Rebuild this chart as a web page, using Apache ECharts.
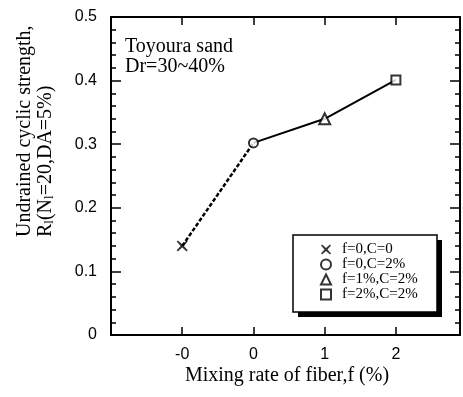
<!DOCTYPE html>
<html>
<head>
<meta charset="utf-8">
<script src="https://cdn.jsdelivr.net/npm/echarts@6/dist/echarts.min.js"></script>
<style>
  html, body { margin: 0; padding: 0; background: #fff; }
  #chart { width: 463px; height: 397px; }
</style>
</head>
<body>
<div id="chart"></div>
<script>
// Mixing rate of fiber: tick labels at positions 0..3 on the x axis
const fiberLabels = ['-0', '0', '1', '2'];
// Undrained cyclic strength R_l(N_l=20, DA=5%) for each test case
const strengthValues = [0.14, 0.302, 0.34, 0.401];
// Legend names for the four test cases
const caseNames = ['f=0,C=0', 'f=0,C=2%', 'f=1%,C=2%', 'f=2%,C=2%'];
// Marker for each case
const caseSymbols = [
  'path://M1,0 L5,3.5 L9,0 L10,1 L6.5,5 L10,9 L9,10 L5,6.5 L1,10 L0,9 L3.5,5 L0,1 Z',
  'circle', 'triangle', 'rect'
];
const caseSymbolSizes = [11, 9, 11, 9];
// y axis ticks
const yMin = 0, yMax = 0.5, yStep = 0.1;

const serif = "'Liberation Serif', 'DejaVu Serif', serif";
const sans = "'Liberation Sans', Arial, sans-serif";
const noGrid = { show: true, lineStyle: { color: 'rgba(0,0,0,0)', width: 0 } };

const pts = fiberLabels.map((_, i) => [i, strengthValues[i]]);

const markerSeries = caseNames.map((name, i) => ({
  name: name,
  type: 'scatter',
  data: [pts[i]],
  symbol: caseSymbols[i],
  symbolSize: caseSymbolSizes[i],
  symbolKeepAspect: true,
  z: 5,
  itemStyle: i === 0
    ? { color: '#000', borderWidth: 0 }
    : { color: '#fff', borderColor: '#000', borderWidth: 2 },
  emphasis: { disabled: true }
}));

const chart = echarts.init(document.getElementById('chart'), null, { renderer: 'canvas' });

chart.setOption({
  animation: false,
  grid: { left: 111, top: 17, right: 3, bottom: 62 },
  xAxis: [{
    type: 'value', min: -1, max: 3.9, interval: 1,
    axisLine: { onZero: false, lineStyle: { color: '#000', width: 2 } },
    axisTick: { show: true, inside: true, length: 8, lineStyle: { color: '#000', width: 1.5 } },
    splitLine: noGrid,
    axisLabel: {
      margin: 12, color: '#000', fontFamily: sans, fontSize: 16,
      formatter: v => (Number.isInteger(v) && v >= 0 && v < fiberLabels.length) ? fiberLabels[v] : ''
    }
  }, {
    type: 'value', position: 'top', min: -1, max: 3.9, interval: 1,
    axisLine: { show: true, onZero: false, lineStyle: { color: '#000', width: 2 } },
    axisTick: { show: true, inside: true, length: 8, lineStyle: { color: '#000', width: 1.5 } },
    splitLine: noGrid,
    axisLabel: { show: false }
  }],
  yAxis: [{
    type: 'value', min: yMin, max: yMax, interval: yStep,
    axisLine: { show: true, onZero: false, lineStyle: { color: '#000', width: 2 } },
    axisTick: { show: true, inside: true, length: 10, lineStyle: { color: '#000', width: 1.5 } },
    minorTick: { show: true, splitNumber: 5, length: 5, lineStyle: { color: '#000', width: 1.5 } },
    splitLine: { show: false },
    axisLabel: { margin: 14, color: '#000', fontFamily: sans, fontSize: 16 }
  }, {
    type: 'value', position: 'right', min: yMin, max: yMax, interval: yStep,
    axisLine: { show: true, onZero: false, lineStyle: { color: '#000', width: 2 } },
    axisTick: { show: true, inside: true, length: 10, lineStyle: { color: '#000', width: 1.5 } },
    minorTick: { show: true, splitNumber: 5, length: 5, lineStyle: { color: '#000', width: 1.5 } },
    splitLine: { show: false },
    axisLabel: { show: false }
  }],
  legend: {
    data: caseNames,
    orient: 'vertical',
    left: 293, top: 235,
    padding: [7, 20, 14, 27],
    itemWidth: 10, itemHeight: 10, itemGap: 0,
    z: 10,
    selectedMode: false,
    textStyle: {
      fontFamily: serif, fontSize: 15, color: '#000',
      lineHeight: 14, padding: [0, 0, 0, 6]
    }
  },
  series: [{
    name: 'untreated', type: 'line', data: [pts[0], pts[1]],
    symbol: 'none', z: 3, silent: true,
    lineStyle: { color: '#000', width: 2.5, type: [4, 2] }
  }, {
    name: 'fiber', type: 'line', data: [pts[1], pts[2], pts[3]],
    symbol: 'none', z: 3, silent: true,
    lineStyle: { color: '#000', width: 2 }
  }].concat(markerSeries),
  graphic: [{
    // legend frame with its drop shadow
    type: 'rect', z: 8, silent: true,
    shape: { x: 298, y: 240, width: 144, height: 77 },
    style: { fill: '#000' }
  }, {
    type: 'rect', z: 9, silent: true,
    shape: { x: 293, y: 235, width: 144, height: 77 },
    style: { fill: '#fff', stroke: '#000', lineWidth: 1.5 }
  }, {
    type: 'text', left: 125, top: 37, silent: true,
    style: {
      text: 'Toyoura sand\nDr=30~40%', font: '20px ' + serif,
      lineHeight: 20, fill: '#000'
    }
  }, {
    type: 'text', x: 287, y: 376, silent: true,
    style: {
      text: 'Mixing rate of fiber,f (%)', font: '20px ' + serif,
      fill: '#000', align: 'center', verticalAlign: 'middle'
    }
  }, {
    type: 'text', x: 25, y: 237, rotation: Math.PI / 2, silent: true,
    style: {
      text: 'Undrained cyclic strength,', font: '20px ' + serif,
      fill: '#000', align: 'left', verticalAlign: 'middle'
    }
  }, {
    type: 'text', x: 46, y: 237, rotation: Math.PI / 2, silent: true,
    style: {
      text: '{m|R}{s|l}{m|(N}{s|l}{m|=20,DA=5%)}',
      fill: '#000', align: 'left', verticalAlign: 'middle',
      rich: {
        m: { fontFamily: serif, fontSize: 20, lineHeight: 20, verticalAlign: 'bottom' },
        s: { fontFamily: serif, fontSize: 13, lineHeight: 13, verticalAlign: 'bottom' }
      }
    }
  }]
});
</script>
</body>
</html>
